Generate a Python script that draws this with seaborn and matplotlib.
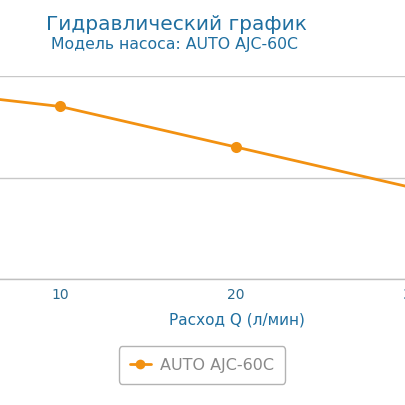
import matplotlib
matplotlib.use("Agg")
import matplotlib.pyplot as plt
import seaborn as sns
import pandas as pd

flow = [0, 10, 20, 30, 40, 50]
head = [38, 34, 26, 18, 9, 0]
series_name = "AUTO AJC-60C"
x_ticks = [0, 10, 20, 30, 40, 50]
y_ticks = [0, 20, 40]

df = pd.DataFrame({"Q": flow, "H": head, "model": series_name})

sns.set_theme(style="white")
plt.rcParams['font.family'] = ['DejaVu Sans']

W = 406
fig = plt.figure(figsize=(4.06, 4.06), dpi=100)
# axes extends past the figure edges (chart is cropped in the reference)
px0 = -116.0
pxw = 17.6 * 50
ax = fig.add_axes([px0 / W, (406 - 280) / W, pxw / W, 203 / W])

orange = "#f29111"
sns.lineplot(data=df, x="Q", y="H", hue="model", palette=[orange], ax=ax,
             marker="o", markersize=8, markeredgewidth=0, linewidth=2.0,
             legend=False)

ax.set_xlim(0, 50)
ax.set_ylim(0, 40)
ax.set_xticks(x_ticks)
ax.set_yticks(y_ticks)
ax.set_yticklabels([])
ax.grid(axis="y", color="#c8c8c8", linewidth=1.0)
ax.grid(axis="x", visible=False)
for s in ["top", "right", "left"]:
    ax.spines[s].set_visible(False)
ax.spines["bottom"].set_color("#c0c0c0")
ax.spines["bottom"].set_linewidth(1.0)
ax.tick_params(axis="x", colors="#c0c0c0", length=5, width=1, direction="out",
               labelcolor="#2a6a8f", labelsize=10, pad=1)
ax.tick_params(axis="y", length=0)
ax.set_xlabel("Расход Q (л/мин)", color="#1f6fa0", fontsize=11)
ax.set_ylabel("")
ax.xaxis.label.set_verticalalignment("center")
ax.xaxis.set_label_coords((237 - px0) / pxw, -(320 - 280) / 203)

fig.text(176 / W, 1 - 25 / W, "Гидравлический график", ha="center", va="center",
         color="#1f6fa0", fontsize=14.5)
fig.text(175 / W, 1 - 45 / W, "Модель насоса: AUTO AJC-60C", ha="center", va="center",
         color="#1f6fa0", fontsize=11.3)

from matplotlib.lines import Line2D
h = Line2D([0], [0], color=orange, lw=2.0, marker="o", markersize=7, markeredgewidth=0)
leg = fig.legend([h], [series_name], loc="center", bbox_to_anchor=(202 / W, 1 - 366 / W),
                 frameon=True, fancybox=True, fontsize=11.5, handlelength=1.3,
                 handletextpad=0.6, borderpad=0.7, borderaxespad=0,
                 labelcolor="#888888")
leg.get_frame().set_edgecolor("#a0a0a0")
leg.get_frame().set_linewidth(1.0)

fig.savefig("out.png", dpi=100)
